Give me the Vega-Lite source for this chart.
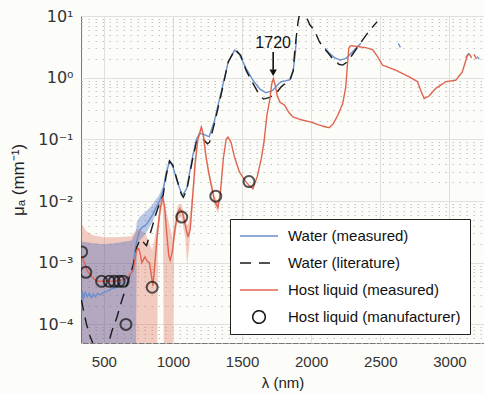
{
  "$schema": "https://vega.github.io/schema/vega-lite/v6.json",
  "autosize": {"type": "none"},
  "padding": {"left": 81, "top": 16, "right": 0, "bottom": 51},
  "width": 403,
  "height": 327,
  "background": "#fcfcf9",
  "config": {
    "view": {"stroke": "#777", "strokeWidth": 1},
    "font": "Liberation Sans"
  },
  "datasets": {
    "bands": [
      {"b": "Water (measured)", "x": 335, "lo": 0.00003, "hi": 0.0022},
      {"b": "Water (measured)", "x": 400, "lo": 0.00003, "hi": 0.0021},
      {"b": "Water (measured)", "x": 500, "lo": 0.00003, "hi": 0.002},
      {"b": "Water (measured)", "x": 600, "lo": 0.00003, "hi": 0.0021},
      {"b": "Water (measured)", "x": 700, "lo": 0.00003, "hi": 0.0023},
      {"b": "Water (measured)", "x": 733, "lo": 0.00003, "hi": 0.0032},
      {"b": "Water (measured)", "x": 738, "lo": 0.0019, "hi": 0.0045},
      {"b": "Water (measured)", "x": 760, "lo": 0.0023, "hi": 0.0056},
      {"b": "Water (measured)", "x": 800, "lo": 0.0029, "hi": 0.0066},
      {"b": "Water (measured)", "x": 850, "lo": 0.0045, "hi": 0.0086},
      {"b": "Water (measured)", "x": 900, "lo": 0.0082, "hi": 0.0125},
      {"b": "Water (measured)", "x": 930, "lo": 0.0125, "hi": 0.018},
      {"b": "Water (measured)", "x": 960, "lo": 0.034, "hi": 0.042},
      {"b": "Host liquid (measured)", "x": 335, "lo": 0.00003, "hi": 0.0045},
      {"b": "Host liquid (measured)", "x": 370, "lo": 0.00003, "hi": 0.0033},
      {"b": "Host liquid (measured)", "x": 420, "lo": 0.00003, "hi": 0.0028},
      {"b": "Host liquid (measured)", "x": 500, "lo": 0.00003, "hi": 0.0026},
      {"b": "Host liquid (measured)", "x": 600, "lo": 0.00003, "hi": 0.0026},
      {"b": "Host liquid (measured)", "x": 700, "lo": 0.00003, "hi": 0.0027},
      {"b": "Host liquid (measured)", "x": 740, "lo": 0.00003, "hi": 0.0036},
      {"b": "Host liquid (measured)", "x": 760, "lo": 0.00003, "hi": 0.0034},
      {"b": "Host liquid (measured)", "x": 800, "lo": 0.00003, "hi": 0.003},
      {"b": "Host liquid (measured)", "x": 850, "lo": 0.00003, "hi": 0.0016},
      {"b": "Host liquid (measured)", "x": 886, "lo": 0.00003, "hi": 0.004},
      {"b": "Host liquid (measured)", "x": 892, "lo": 0.0025, "hi": 0.005},
      {"b": "Host liquid (measured)", "x": 910, "lo": 0.006, "hi": 0.01},
      {"b": "Host liquid (measured)", "x": 927, "lo": 0.009, "hi": 0.014},
      {"b": "Host liquid (measured)", "x": 934, "lo": 0.00003, "hi": 0.01},
      {"b": "Host liquid (measured)", "x": 998, "lo": 0.00003, "hi": 0.0025},
      {"b": "Host liquid (measured)", "x": 1004, "lo": 0.0018, "hi": 0.0035},
      {"b": "Host liquid (measured)", "x": 1035, "lo": 0.005, "hi": 0.0085},
      {"b": "Host liquid (measured)", "x": 1060, "lo": 0.0055, "hi": 0.009},
      {"b": "Host liquid (measured)", "x": 1090, "lo": 0.0025, "hi": 0.0055},
      {"b": "Host liquid (measured)", "x": 1102, "lo": 0.0009, "hi": 0.004},
      {"b": "Host liquid (measured)", "x": 1115, "lo": 0.0016, "hi": 0.0045},
      {"b": "Host liquid (measured)", "x": 1140, "lo": 0.007, "hi": 0.013},
      {"b": "Host liquid (measured)", "x": 1180, "lo": 0.085, "hi": 0.115},
      {"b": "Host liquid (measured)", "x": 1206, "lo": 0.14, "hi": 0.175},
      {"b": "Host liquid (measured)", "x": 1260, "lo": 0.024, "hi": 0.032},
      {"b": "Host liquid (measured)", "x": 1302, "lo": 0.0085, "hi": 0.012},
      {"b": "Host liquid (measured)", "x": 1326, "lo": 0.0062, "hi": 0.0095},
      {"b": "Host liquid (measured)", "x": 1345, "lo": 0.013, "hi": 0.017}
    ],
    "lines": [
      {"s": "Water (measured)", "g": 1, "x": 338, "y": 0.00018},
      {"s": "Water (measured)", "g": 1, "x": 345, "y": 0.00035},
      {"s": "Water (measured)", "g": 1, "x": 355, "y": 0.00027},
      {"s": "Water (measured)", "g": 1, "x": 368, "y": 0.00033},
      {"s": "Water (measured)", "g": 1, "x": 380, "y": 0.00028},
      {"s": "Water (measured)", "g": 1, "x": 395, "y": 0.00032},
      {"s": "Water (measured)", "g": 1, "x": 410, "y": 0.00027},
      {"s": "Water (measured)", "g": 1, "x": 425, "y": 0.00031},
      {"s": "Water (measured)", "g": 1, "x": 440, "y": 0.00028},
      {"s": "Water (measured)", "g": 1, "x": 455, "y": 0.00032},
      {"s": "Water (measured)", "g": 1, "x": 472, "y": 0.0003},
      {"s": "Water (measured)", "g": 1, "x": 500, "y": 0.00033},
      {"s": "Water (measured)", "g": 1, "x": 530, "y": 0.00035},
      {"s": "Water (measured)", "g": 1, "x": 560, "y": 0.00038},
      {"s": "Water (measured)", "g": 1, "x": 593, "y": 0.0004},
      {"s": "Water (measured)", "g": 1, "x": 620, "y": 0.00046},
      {"s": "Water (measured)", "g": 1, "x": 650, "y": 0.00052},
      {"s": "Water (measured)", "g": 1, "x": 689, "y": 0.00061},
      {"s": "Water (measured)", "g": 1, "x": 710, "y": 0.0008},
      {"s": "Water (measured)", "g": 1, "x": 725, "y": 0.0016},
      {"s": "Water (measured)", "g": 1, "x": 745, "y": 0.0026},
      {"s": "Water (measured)", "g": 1, "x": 761, "y": 0.0034},
      {"s": "Water (measured)", "g": 1, "x": 780, "y": 0.0038},
      {"s": "Water (measured)", "g": 1, "x": 809, "y": 0.0042},
      {"s": "Water (measured)", "g": 1, "x": 830, "y": 0.005},
      {"s": "Water (measured)", "g": 1, "x": 857, "y": 0.0062},
      {"s": "Water (measured)", "g": 1, "x": 880, "y": 0.008},
      {"s": "Water (measured)", "g": 1, "x": 905, "y": 0.0102},
      {"s": "Water (measured)", "g": 1, "x": 929, "y": 0.0148},
      {"s": "Water (measured)", "g": 1, "x": 950, "y": 0.028},
      {"s": "Water (measured)", "g": 1, "x": 977, "y": 0.044},
      {"s": "Water (measured)", "g": 1, "x": 1000, "y": 0.036},
      {"s": "Water (measured)", "g": 1, "x": 1030, "y": 0.021},
      {"s": "Water (measured)", "g": 1, "x": 1068, "y": 0.0123},
      {"s": "Water (measured)", "g": 1, "x": 1100, "y": 0.016},
      {"s": "Water (measured)", "g": 1, "x": 1140, "y": 0.05},
      {"s": "Water (measured)", "g": 1, "x": 1170, "y": 0.1},
      {"s": "Water (measured)", "g": 1, "x": 1193, "y": 0.125},
      {"s": "Water (measured)", "g": 1, "x": 1225, "y": 0.12},
      {"s": "Water (measured)", "g": 1, "x": 1262, "y": 0.11},
      {"s": "Water (measured)", "g": 1, "x": 1300, "y": 0.2},
      {"s": "Water (measured)", "g": 1, "x": 1350, "y": 0.6},
      {"s": "Water (measured)", "g": 1, "x": 1400, "y": 1.8},
      {"s": "Water (measured)", "g": 1, "x": 1446, "y": 2.8},
      {"s": "Water (measured)", "g": 1, "x": 1480, "y": 2.4},
      {"s": "Water (measured)", "g": 1, "x": 1530, "y": 1.4},
      {"s": "Water (measured)", "g": 1, "x": 1580, "y": 0.9},
      {"s": "Water (measured)", "g": 1, "x": 1630, "y": 0.65},
      {"s": "Water (measured)", "g": 1, "x": 1675, "y": 0.57},
      {"s": "Water (measured)", "g": 1, "x": 1720, "y": 0.62},
      {"s": "Water (measured)", "g": 1, "x": 1760, "y": 0.78},
      {"s": "Water (measured)", "g": 1, "x": 1783, "y": 0.86},
      {"s": "Water (measured)", "g": 1, "x": 1843, "y": 0.92},
      {"s": "Water (measured)", "g": 1, "x": 1870, "y": 1.3},
      {"s": "Water (measured)", "g": 1, "x": 1885, "y": 2.5},
      {"s": "Water (measured)", "g": 1, "x": 1893, "y": 4.2},
      {"s": "Water (measured)", "g": 2, "x": 2100, "y": 3.0},
      {"s": "Water (measured)", "g": 2, "x": 2131, "y": 2.5},
      {"s": "Water (measured)", "g": 2, "x": 2170, "y": 2.1},
      {"s": "Water (measured)", "g": 2, "x": 2210, "y": 1.93},
      {"s": "Water (measured)", "g": 2, "x": 2250, "y": 2.05},
      {"s": "Water (measured)", "g": 2, "x": 2290, "y": 2.5},
      {"s": "Water (measured)", "g": 2, "x": 2330, "y": 3.1},
      {"s": "Water (measured)", "g": 2, "x": 2360, "y": 3.6},
      {"s": "Water (measured)", "g": 3, "x": 2630, "y": 3.6},
      {"s": "Water (measured)", "g": 3, "x": 2645, "y": 3.1},
      {"s": "Water (measured)", "g": 4, "x": 3118, "y": 2.1},
      {"s": "Water (measured)", "g": 4, "x": 3140, "y": 2.5},
      {"s": "Water (measured)", "g": 5, "x": 3200, "y": 2.2},
      {"s": "Water (measured)", "g": 5, "x": 3215, "y": 2.0},
      {"s": "Water (literature)", "g": 1, "x": 338, "y": 0.00025},
      {"s": "Water (literature)", "g": 1, "x": 355, "y": 0.00016},
      {"s": "Water (literature)", "g": 1, "x": 375, "y": 0.0001},
      {"s": "Water (literature)", "g": 1, "x": 400, "y": 0.000065},
      {"s": "Water (literature)", "g": 1, "x": 420, "y": 0.00005},
      {"s": "Water (literature)", "g": 1, "x": 480, "y": 0.000025},
      {"s": "Water (literature)", "g": 1, "x": 520, "y": 0.000035},
      {"s": "Water (literature)", "g": 1, "x": 540, "y": 0.000055},
      {"s": "Water (literature)", "g": 1, "x": 560, "y": 0.00008},
      {"s": "Water (literature)", "g": 1, "x": 593, "y": 0.000127},
      {"s": "Water (literature)", "g": 1, "x": 629, "y": 0.00024},
      {"s": "Water (literature)", "g": 1, "x": 676, "y": 0.00051},
      {"s": "Water (literature)", "g": 1, "x": 712, "y": 0.0009},
      {"s": "Water (literature)", "g": 1, "x": 737, "y": 0.00175},
      {"s": "Water (literature)", "g": 1, "x": 760, "y": 0.0023},
      {"s": "Water (literature)", "g": 1, "x": 773, "y": 0.0024},
      {"s": "Water (literature)", "g": 1, "x": 790, "y": 0.0021},
      {"s": "Water (literature)", "g": 1, "x": 809, "y": 0.0019},
      {"s": "Water (literature)", "g": 1, "x": 845, "y": 0.0035},
      {"s": "Water (literature)", "g": 1, "x": 870, "y": 0.0055},
      {"s": "Water (literature)", "g": 1, "x": 893, "y": 0.0079},
      {"s": "Water (literature)", "g": 1, "x": 929, "y": 0.0123},
      {"s": "Water (literature)", "g": 1, "x": 950, "y": 0.025},
      {"s": "Water (literature)", "g": 1, "x": 975, "y": 0.045},
      {"s": "Water (literature)", "g": 1, "x": 1000, "y": 0.038},
      {"s": "Water (literature)", "g": 1, "x": 1030, "y": 0.022},
      {"s": "Water (literature)", "g": 1, "x": 1060, "y": 0.013},
      {"s": "Water (literature)", "g": 1, "x": 1075, "y": 0.0115},
      {"s": "Water (literature)", "g": 1, "x": 1100, "y": 0.015},
      {"s": "Water (literature)", "g": 1, "x": 1140, "y": 0.045},
      {"s": "Water (literature)", "g": 1, "x": 1170, "y": 0.09},
      {"s": "Water (literature)", "g": 1, "x": 1195, "y": 0.105},
      {"s": "Water (literature)", "g": 1, "x": 1220, "y": 0.1},
      {"s": "Water (literature)", "g": 1, "x": 1250, "y": 0.085},
      {"s": "Water (literature)", "g": 1, "x": 1265, "y": 0.09},
      {"s": "Water (literature)", "g": 1, "x": 1300, "y": 0.18},
      {"s": "Water (literature)", "g": 1, "x": 1350, "y": 0.55},
      {"s": "Water (literature)", "g": 1, "x": 1400, "y": 1.8},
      {"s": "Water (literature)", "g": 1, "x": 1450, "y": 2.9},
      {"s": "Water (literature)", "g": 1, "x": 1490, "y": 2.3},
      {"s": "Water (literature)", "g": 1, "x": 1530, "y": 1.3},
      {"s": "Water (literature)", "g": 1, "x": 1580, "y": 0.8},
      {"s": "Water (literature)", "g": 1, "x": 1620, "y": 0.55},
      {"s": "Water (literature)", "g": 1, "x": 1655, "y": 0.45},
      {"s": "Water (literature)", "g": 1, "x": 1700, "y": 0.48},
      {"s": "Water (literature)", "g": 1, "x": 1747, "y": 0.56},
      {"s": "Water (literature)", "g": 1, "x": 1783, "y": 0.71},
      {"s": "Water (literature)", "g": 1, "x": 1850, "y": 0.95},
      {"s": "Water (literature)", "g": 1, "x": 1870, "y": 1.3},
      {"s": "Water (literature)", "g": 1, "x": 1880, "y": 2.5},
      {"s": "Water (literature)", "g": 1, "x": 1890, "y": 4.2},
      {"s": "Water (literature)", "g": 1, "x": 1905, "y": 8},
      {"s": "Water (literature)", "g": 1, "x": 1915, "y": 10.5},
      {"s": "Water (literature)", "g": 1, "x": 1935, "y": 15},
      {"s": "Water (literature)", "g": 1, "x": 1962, "y": 10},
      {"s": "Water (literature)", "g": 1, "x": 1990, "y": 7.2},
      {"s": "Water (literature)", "g": 1, "x": 2023, "y": 5.9},
      {"s": "Water (literature)", "g": 1, "x": 2060, "y": 3.8},
      {"s": "Water (literature)", "g": 1, "x": 2100, "y": 2.9},
      {"s": "Water (literature)", "g": 1, "x": 2150, "y": 2.1},
      {"s": "Water (literature)", "g": 1, "x": 2200, "y": 1.65},
      {"s": "Water (literature)", "g": 1, "x": 2228, "y": 1.6},
      {"s": "Water (literature)", "g": 1, "x": 2260, "y": 1.8},
      {"s": "Water (literature)", "g": 1, "x": 2300, "y": 2.4},
      {"s": "Water (literature)", "g": 1, "x": 2350, "y": 3.5},
      {"s": "Water (literature)", "g": 1, "x": 2400, "y": 5},
      {"s": "Water (literature)", "g": 1, "x": 2440, "y": 6.5},
      {"s": "Water (literature)", "g": 1, "x": 2478, "y": 8.1},
      {"s": "Host liquid (measured)", "g": 1, "x": 338, "y": 0.0013},
      {"s": "Host liquid (measured)", "g": 1, "x": 360, "y": 0.001},
      {"s": "Host liquid (measured)", "g": 1, "x": 380, "y": 0.00074},
      {"s": "Host liquid (measured)", "g": 1, "x": 400, "y": 0.00065},
      {"s": "Host liquid (measured)", "g": 1, "x": 430, "y": 0.00054},
      {"s": "Host liquid (measured)", "g": 1, "x": 460, "y": 0.0005},
      {"s": "Host liquid (measured)", "g": 1, "x": 550, "y": 0.0005},
      {"s": "Host liquid (measured)", "g": 1, "x": 600, "y": 0.00051},
      {"s": "Host liquid (measured)", "g": 1, "x": 640, "y": 0.00053},
      {"s": "Host liquid (measured)", "g": 1, "x": 680, "y": 0.00062},
      {"s": "Host liquid (measured)", "g": 1, "x": 712, "y": 0.00074},
      {"s": "Host liquid (measured)", "g": 1, "x": 737, "y": 0.0016},
      {"s": "Host liquid (measured)", "g": 1, "x": 752, "y": 0.0017},
      {"s": "Host liquid (measured)", "g": 1, "x": 765, "y": 0.00135},
      {"s": "Host liquid (measured)", "g": 1, "x": 775, "y": 0.001},
      {"s": "Host liquid (measured)", "g": 1, "x": 785, "y": 0.0011},
      {"s": "Host liquid (measured)", "g": 1, "x": 797, "y": 0.00125},
      {"s": "Host liquid (measured)", "g": 1, "x": 815, "y": 0.00105},
      {"s": "Host liquid (measured)", "g": 1, "x": 830, "y": 0.001},
      {"s": "Host liquid (measured)", "g": 1, "x": 845, "y": 0.0006},
      {"s": "Host liquid (measured)", "g": 1, "x": 855, "y": 0.00042},
      {"s": "Host liquid (measured)", "g": 1, "x": 870, "y": 0.001},
      {"s": "Host liquid (measured)", "g": 1, "x": 890, "y": 0.0035},
      {"s": "Host liquid (measured)", "g": 1, "x": 910, "y": 0.008},
      {"s": "Host liquid (measured)", "g": 1, "x": 927, "y": 0.0115},
      {"s": "Host liquid (measured)", "g": 1, "x": 940, "y": 0.008},
      {"s": "Host liquid (measured)", "g": 1, "x": 955, "y": 0.003},
      {"s": "Host liquid (measured)", "g": 1, "x": 970, "y": 0.0013},
      {"s": "Host liquid (measured)", "g": 1, "x": 980, "y": 0.0011},
      {"s": "Host liquid (measured)", "g": 1, "x": 995, "y": 0.0015},
      {"s": "Host liquid (measured)", "g": 1, "x": 1015, "y": 0.0035},
      {"s": "Host liquid (measured)", "g": 1, "x": 1035, "y": 0.0065},
      {"s": "Host liquid (measured)", "g": 1, "x": 1049, "y": 0.0075},
      {"s": "Host liquid (measured)", "g": 1, "x": 1070, "y": 0.0065},
      {"s": "Host liquid (measured)", "g": 1, "x": 1090, "y": 0.004},
      {"s": "Host liquid (measured)", "g": 1, "x": 1109, "y": 0.0026},
      {"s": "Host liquid (measured)", "g": 1, "x": 1125, "y": 0.0035},
      {"s": "Host liquid (measured)", "g": 1, "x": 1140, "y": 0.01},
      {"s": "Host liquid (measured)", "g": 1, "x": 1160, "y": 0.04},
      {"s": "Host liquid (measured)", "g": 1, "x": 1180, "y": 0.1},
      {"s": "Host liquid (measured)", "g": 1, "x": 1206, "y": 0.158},
      {"s": "Host liquid (measured)", "g": 1, "x": 1220, "y": 0.12},
      {"s": "Host liquid (measured)", "g": 1, "x": 1240, "y": 0.05},
      {"s": "Host liquid (measured)", "g": 1, "x": 1260, "y": 0.028},
      {"s": "Host liquid (measured)", "g": 1, "x": 1285, "y": 0.015},
      {"s": "Host liquid (measured)", "g": 1, "x": 1302, "y": 0.01},
      {"s": "Host liquid (measured)", "g": 1, "x": 1326, "y": 0.0079},
      {"s": "Host liquid (measured)", "g": 1, "x": 1345, "y": 0.015},
      {"s": "Host liquid (measured)", "g": 1, "x": 1365, "y": 0.05},
      {"s": "Host liquid (measured)", "g": 1, "x": 1385, "y": 0.1},
      {"s": "Host liquid (measured)", "g": 1, "x": 1398, "y": 0.109},
      {"s": "Host liquid (measured)", "g": 1, "x": 1420, "y": 0.09},
      {"s": "Host liquid (measured)", "g": 1, "x": 1445, "y": 0.052},
      {"s": "Host liquid (measured)", "g": 1, "x": 1480, "y": 0.03},
      {"s": "Host liquid (measured)", "g": 1, "x": 1520, "y": 0.0215},
      {"s": "Host liquid (measured)", "g": 1, "x": 1550, "y": 0.018},
      {"s": "Host liquid (measured)", "g": 1, "x": 1578, "y": 0.0158},
      {"s": "Host liquid (measured)", "g": 1, "x": 1610, "y": 0.025},
      {"s": "Host liquid (measured)", "g": 1, "x": 1640, "y": 0.05},
      {"s": "Host liquid (measured)", "g": 1, "x": 1660, "y": 0.096},
      {"s": "Host liquid (measured)", "g": 1, "x": 1680, "y": 0.25},
      {"s": "Host liquid (measured)", "g": 1, "x": 1700, "y": 0.43},
      {"s": "Host liquid (measured)", "g": 1, "x": 1715, "y": 0.8},
      {"s": "Host liquid (measured)", "g": 1, "x": 1727, "y": 0.97},
      {"s": "Host liquid (measured)", "g": 1, "x": 1740, "y": 0.75},
      {"s": "Host liquid (measured)", "g": 1, "x": 1755, "y": 0.5},
      {"s": "Host liquid (measured)", "g": 1, "x": 1775, "y": 0.4},
      {"s": "Host liquid (measured)", "g": 1, "x": 1790, "y": 0.38},
      {"s": "Host liquid (measured)", "g": 1, "x": 1807, "y": 0.36},
      {"s": "Host liquid (measured)", "g": 1, "x": 1840, "y": 0.27},
      {"s": "Host liquid (measured)", "g": 1, "x": 1870, "y": 0.23},
      {"s": "Host liquid (measured)", "g": 1, "x": 1920, "y": 0.21},
      {"s": "Host liquid (measured)", "g": 1, "x": 2000, "y": 0.19},
      {"s": "Host liquid (measured)", "g": 1, "x": 2060, "y": 0.17},
      {"s": "Host liquid (measured)", "g": 1, "x": 2100, "y": 0.16},
      {"s": "Host liquid (measured)", "g": 1, "x": 2131, "y": 0.155},
      {"s": "Host liquid (measured)", "g": 1, "x": 2160, "y": 0.18},
      {"s": "Host liquid (measured)", "g": 1, "x": 2192, "y": 0.245},
      {"s": "Host liquid (measured)", "g": 1, "x": 2228, "y": 0.38},
      {"s": "Host liquid (measured)", "g": 1, "x": 2250, "y": 0.7},
      {"s": "Host liquid (measured)", "g": 1, "x": 2262, "y": 1.6},
      {"s": "Host liquid (measured)", "g": 1, "x": 2272, "y": 3.0},
      {"s": "Host liquid (measured)", "g": 1, "x": 2285, "y": 3.3},
      {"s": "Host liquid (measured)", "g": 1, "x": 2336, "y": 3.2},
      {"s": "Host liquid (measured)", "g": 1, "x": 2400, "y": 3.05},
      {"s": "Host liquid (measured)", "g": 1, "x": 2444, "y": 2.85},
      {"s": "Host liquid (measured)", "g": 1, "x": 2480, "y": 2.2},
      {"s": "Host liquid (measured)", "g": 1, "x": 2516, "y": 1.6},
      {"s": "Host liquid (measured)", "g": 1, "x": 2613, "y": 1.32},
      {"s": "Host liquid (measured)", "g": 1, "x": 2709, "y": 1.03},
      {"s": "Host liquid (measured)", "g": 1, "x": 2769, "y": 0.86},
      {"s": "Host liquid (measured)", "g": 1, "x": 2795, "y": 0.6},
      {"s": "Host liquid (measured)", "g": 1, "x": 2817, "y": 0.46},
      {"s": "Host liquid (measured)", "g": 1, "x": 2850, "y": 0.5},
      {"s": "Host liquid (measured)", "g": 1, "x": 2901, "y": 0.67},
      {"s": "Host liquid (measured)", "g": 1, "x": 2974, "y": 0.86},
      {"s": "Host liquid (measured)", "g": 1, "x": 3046, "y": 0.91},
      {"s": "Host liquid (measured)", "g": 1, "x": 3093, "y": 1.24},
      {"s": "Host liquid (measured)", "g": 1, "x": 3130, "y": 2.3},
      {"s": "Host liquid (measured)", "g": 1, "x": 3145, "y": 2.4},
      {"s": "Host liquid (measured)", "g": 1, "x": 3160, "y": 2.1},
      {"s": "Host liquid (measured)", "g": 2, "x": 3178, "y": 2.4},
      {"s": "Host liquid (measured)", "g": 2, "x": 3195, "y": 2.0}
    ],
    "circles": [
      {"x": 340, "y": 0.0015},
      {"x": 370, "y": 0.0007},
      {"x": 484, "y": 0.0005},
      {"x": 539, "y": 0.0005},
      {"x": 575, "y": 0.0005},
      {"x": 611, "y": 0.0005},
      {"x": 640, "y": 0.0005},
      {"x": 660, "y": 0.0001},
      {"x": 850, "y": 0.0004},
      {"x": 1064, "y": 0.0055},
      {"x": 1310, "y": 0.012},
      {"x": 1550, "y": 0.0207}
    ],
    "annot": [
      {"x": 1725, "top": 2.6, "bot": 1.35, "tip": 1.2, "t": 3.6, "label": "1720"}
    ]
  },
  "layer": [
    {
      "data": {"name": "bands"},
      "transform": [{"filter": "datum.b === 'Host liquid (measured)'"}],
      "mark": {"type": "area", "clip": true, "color": "#dc5a3c", "opacity": 0.3},
      "encoding": {
        "x": {
          "field": "x", "type": "quantitative",
          "scale": {"domain": [335, 3250], "nice": false, "zero": false},
          "axis": {
            "values": [500, 1000, 1500, 2000, 2500, 3000],
            "format": "d",
            "title": "λ (nm)", "titleFontSize": 15, "titleFontWeight": "normal", "titleColor": "#222", "titlePadding": 6,
            "labelFontSize": 15, "labelColor": "#333", "labelPadding": 11,
            "ticks": false, "domain": false,
            "grid": true, "gridColor": "#e0e0e0", "gridWidth": 1
          }
        },
        "y": {
          "field": "lo", "type": "quantitative",
          "scale": {"type": "log", "domain": [0.00005, 10], "nice": false},
          "axis": {
            "values": [0.00005, 0.00006, 0.00007, 0.00008, 0.00009, 0.0001, 0.0002, 0.0003, 0.0004, 0.0005, 0.0006, 0.0007, 0.0008, 0.0009, 0.001, 0.002, 0.003, 0.004, 0.005, 0.006, 0.007, 0.008, 0.009, 0.01, 0.02, 0.03, 0.04, 0.05, 0.06, 0.07, 0.08, 0.09, 0.1, 0.2, 0.3, 0.4, 0.5, 0.6, 0.7, 0.8, 0.9, 1, 2, 3, 4, 5, 6, 7, 8, 9, 10],
            "labelExpr": "abs(log(datum.value)/LN10 - round(log(datum.value)/LN10)) < 0.001 ? '10' + replace(replace(replace(replace(replace(replace('' + round(log(datum.value)/LN10), '-', '⁻'), '0', '⁰'), '1', '¹'), '2', '²'), '3', '³'), '4', '⁴') : ''",
            "labelOverlap": false, "labelBound": false,
            "labelFont": "DejaVu Sans",
            "labelFontSize": 16, "labelColor": "#333", "labelPadding": 8,
            "ticks": false, "domain": false,
            "grid": true,
            "gridColor": {"condition": {"test": "abs(log(datum.value)/LN10 - round(log(datum.value)/LN10)) > 0.001", "value": "#c4c4c4"}, "value": "#e0e0e0"},
            "gridDash": {"condition": {"test": "abs(log(datum.value)/LN10 - round(log(datum.value)/LN10)) > 0.001", "value": [1.5, 5.5]}, "value": []},
            "title": "μₐ (mm⁻¹)", "titleFontSize": 17, "titleFontWeight": "normal", "titleColor": "#222", "titlePadding": 10
          }
        },
        "y2": {"field": "hi"}
      }
    },
    {
      "data": {"name": "bands"},
      "transform": [{"filter": "datum.b === 'Water (measured)'"}],
      "mark": {"type": "area", "clip": true, "color": "#3c64be", "opacity": 0.34},
      "encoding": {
        "x": {"field": "x", "type": "quantitative"},
        "y": {"field": "lo", "type": "quantitative"},
        "y2": {"field": "hi"}
      }
    },
    {
      "data": {"name": "lines"},
      "mark": {"type": "line", "clip": true, "strokeWidth": 1.4},
      "encoding": {
        "x": {"field": "x", "type": "quantitative"},
        "y": {"field": "y", "type": "quantitative"},
        "detail": {"field": "g"},
        "color": {
          "field": "s", "type": "nominal",
          "scale": {
            "domain": ["Water (measured)", "Water (literature)", "Host liquid (measured)", "Host liquid (manufacturer)"],
            "range": ["#6b8fcd", "#1a1a1a", "#e0654f", "#1a1a1a"]
          },
          "legend": {
            "orient": "none", "legendX": 149, "legendY": 203, "title": null,
            "symbolType": "M -1,0 L 1,0", "symbolSize": 1444, "symbolStrokeWidth": 1.6,
            "labelFontSize": 15, "labelColor": "#111", "labelOffset": 9, "labelLimit": 300,
            "clipHeight": 16, "rowPadding": 11, "padding": 9,
            "strokeColor": "#222", "fillColor": "#ffffff",
            "encode": {
              "symbols": {
                "update": {
                  "shape": {"signal": "datum.value === 'Host liquid (manufacturer)' ? 'M 0.33,0 A 0.33,0.33 0 1,1 -0.33,0 A 0.33,0.33 0 1,1 0.33,0 Z' : 'M -1,0 L 1,0'"},
                  "strokeDash": {"signal": "datum.value === 'Water (literature)' ? [11, 8] : [1, 0]"},
                  "fill": {"value": "transparent"}
                }
              }
            }
          }
        },
        "strokeDash": {
          "field": "s", "type": "nominal",
          "scale": {
            "domain": ["Water (measured)", "Water (literature)", "Host liquid (measured)"],
            "range": [[1, 0], [11, 7], [1, 0]]
          },
          "legend": null
        }
      }
    },
    {
      "data": {"name": "circles"},
      "mark": {"type": "point", "shape": "circle", "filled": false, "stroke": "#111", "strokeWidth": 2, "size": 120, "clip": true},
      "encoding": {
        "x": {"field": "x", "type": "quantitative"},
        "y": {"field": "y", "type": "quantitative"}
      }
    },
    {
      "data": {"name": "annot"},
      "mark": {"type": "rule", "color": "#111", "strokeWidth": 1.6},
      "encoding": {
        "x": {"field": "x", "type": "quantitative"},
        "y": {"field": "top", "type": "quantitative"},
        "y2": {"field": "bot"}
      }
    },
    {
      "data": {"name": "annot"},
      "mark": {"type": "point", "shape": "triangle-down", "filled": true, "color": "#111", "size": 55, "opacity": 1},
      "encoding": {
        "x": {"field": "x", "type": "quantitative"},
        "y": {"field": "tip", "type": "quantitative"}
      }
    },
    {
      "data": {"name": "annot"},
      "mark": {"type": "text", "fontSize": 16, "color": "#111", "baseline": "middle", "align": "center"},
      "encoding": {
        "x": {"field": "x", "type": "quantitative"},
        "y": {"field": "t", "type": "quantitative"},
        "text": {"field": "label"}
      }
    }
  ]
}
